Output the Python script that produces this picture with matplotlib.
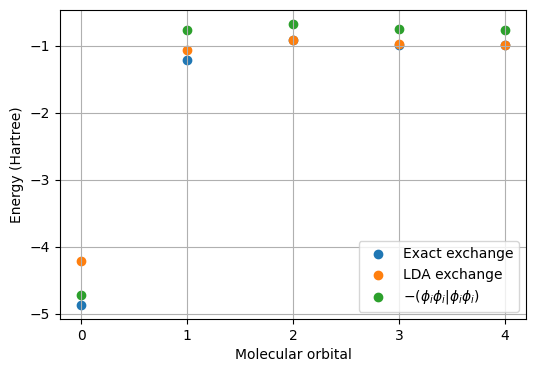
import matplotlib
matplotlib.use("Agg")
import matplotlib.pyplot as plt

orbitals = [0, 1, 2, 3, 4]
exact_exchange = [-4.87, -1.21, -0.92, -0.985, -0.99]
lda_exchange = [-4.21, -1.065, -0.915, -0.975, -0.985]
coulomb_self = [-4.72, -0.765, -0.675, -0.75, -0.765]

fig = plt.figure(figsize=(5.34, 3.71), dpi=100)
ax = fig.add_axes([60/534, 1-319/371, 466/534, 309/371])
ax.scatter(orbitals, exact_exchange, label="Exact exchange")
ax.scatter(orbitals, lda_exchange, label="LDA exchange")
ax.scatter(orbitals, coulomb_self, label=r"$-(\phi_i\phi_i|\phi_i\phi_i)$")
ax.set_xlabel("Molecular orbital")
ax.set_ylabel("Energy (Hartree)")
ax.set_xticks(orbitals)
ax.grid(True)
ax.legend(loc="lower right")
fig.savefig("out.png", dpi=100)
